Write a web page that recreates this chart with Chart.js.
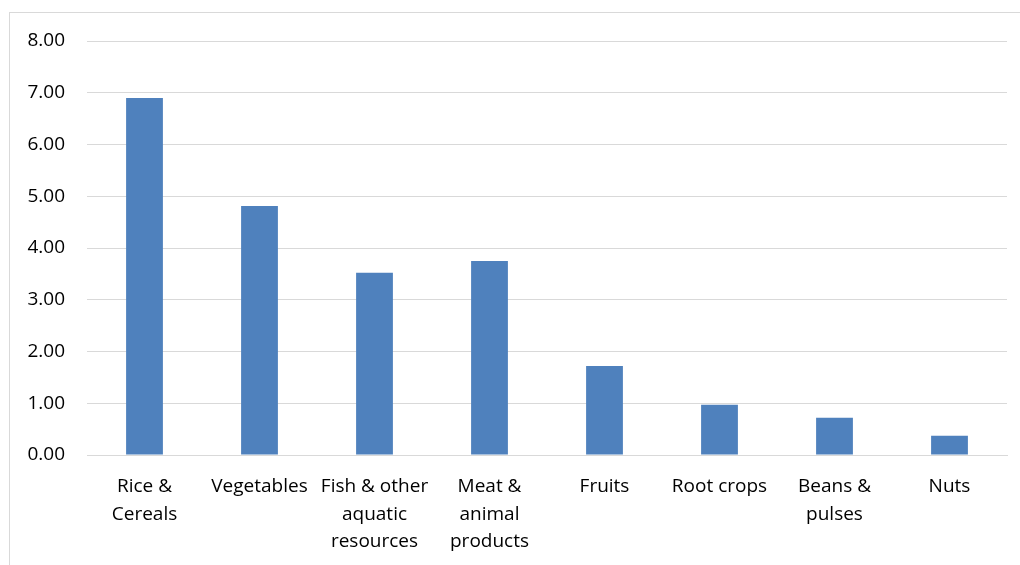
<!DOCTYPE html>
<html>
<head>
<meta charset="utf-8">
<script src="https://cdn.jsdelivr.net/npm/chart.js@4/dist/chart.umd.min.js"></script>
<style>
  html, body { margin: 0; padding: 0; background: #fff; }
  .wrap { position: relative; width: 1020px; height: 565px; overflow: hidden; }
  .frame { position: absolute; left: 9px; top: 12px; width: 1030px; height: 600px; border: 1px solid #d9d9d9; box-sizing: border-box; }
  canvas { position: absolute; left: 0; top: 0; }
</style>
</head>
<body>
<div class="wrap">
  <div class="frame"></div>
  <canvas id="chart" width="1020" height="565"></canvas>
</div>
<script>
const categories = [
  ['Rice &', 'Cereals'],
  'Vegetables',
  ['Fish & other', 'aquatic', 'resources'],
  ['Meat &', 'animal', 'products'],
  'Fruits',
  'Root crops',
  ['Beans &', 'pulses'],
  'Nuts'
];
const values = [6.90, 4.81, 3.52, 3.75, 1.72, 0.97, 0.72, 0.37];
const yTicks = [0, 1, 2, 3, 4, 5, 6, 7, 8];

const font = { family: "'Open Sans', 'Noto Sans', sans-serif", size: 19, lineHeight: 1.45 };

new Chart(document.getElementById('chart'), {
  type: 'bar',
  data: {
    labels: categories,
    datasets: [{
      data: values,
      backgroundColor: '#4f81bd',
      borderWidth: 0,
      barPercentage: 0.32,
      categoryPercentage: 1
    }]
  },
  options: {
    responsive: false,
    animation: false,
    layout: { padding: { left: 0, top: 41, right: 13, bottom: 0 } },
    plugins: { legend: { display: false }, tooltip: { enabled: false } },
    scales: {
      x: {
        grid: { display: false },
        border: { color: '#d9d9d9', width: 1 },
        ticks: { color: '#000', font: font, maxRotation: 0, autoSkip: false, padding: 10 },
        afterFit: (s) => { s.height = 110; }
      },
      y: {
        min: 0,
        max: 8,
        afterBuildTicks: (s) => { s.ticks = yTicks.map(v => ({ value: v })); },
        grid: { color: '#d9d9d9', drawTicks: false },
        border: { display: false },
        ticks: { color: '#000', font: font, padding: 22, callback: (v) => Number(v).toFixed(2) },
        afterFit: (s) => { s.width = 87; }
      }
    }
  }
});
</script>
</body>
</html>
